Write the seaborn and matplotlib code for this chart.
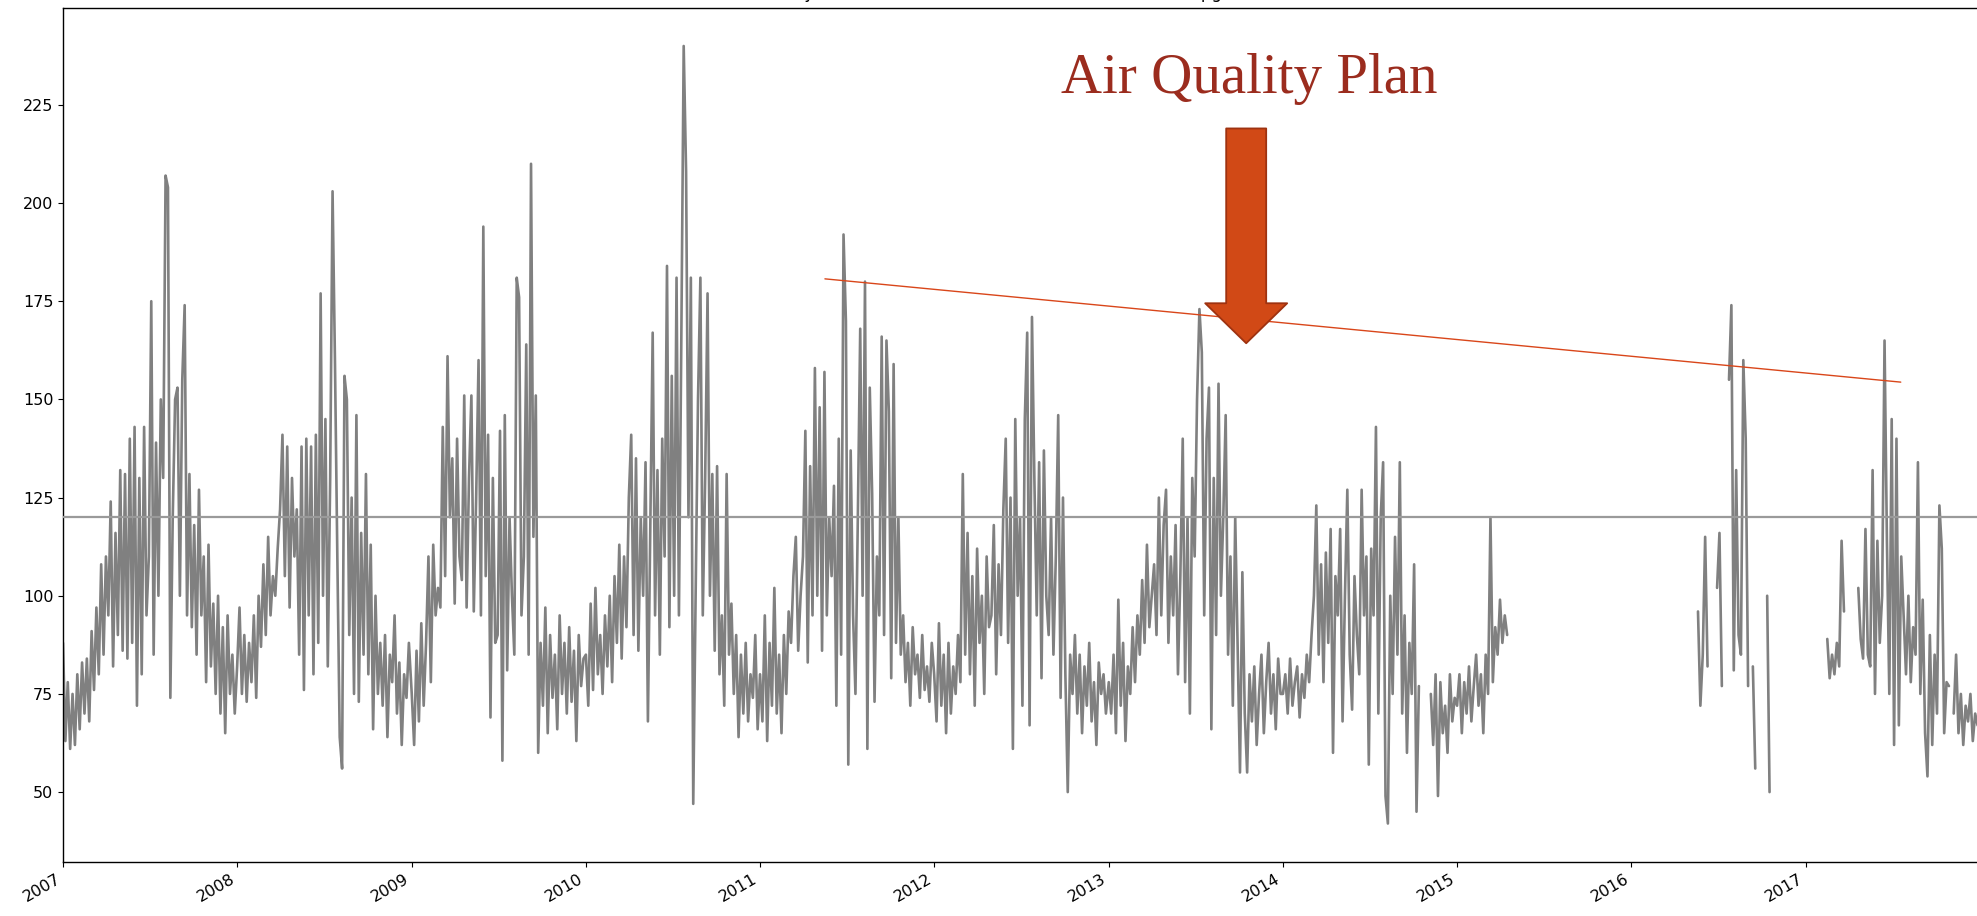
import numpy as np
import pandas as pd
import matplotlib
matplotlib.use("Agg")
import matplotlib.pyplot as plt
import matplotlib.dates as mdates
import seaborn as sns

nan = np.nan

# ---- data (5-day samples, NaN = missing) ----
years = [2007, 2008, 2009, 2010, 2011, 2012, 2013, 2014, 2015, 2016, 2017]

o3_2007 = [88, 63, 78, 61, 75, 62, 80, 66, 83, 70, 84, 68,
           91, 76, 97, 80, 108, 85, 110, 95, 124, 82, 116, 90,
           132, 86, 131, 84, 140, 88, 143, 72, 130, 80, 143, 95,
           110, 175, 85, 139, 100, 150, 130, 207, 204, 74, 120, 150,
           153, 100, 155, 174, 95, 131, 92, 118, 85, 127, 95, 110,
           78, 113, 82, 98, 75, 100, 70, 92, 65, 95, 75, 85, 70]
o3_2008 = [82, 97, 75, 90, 73, 88, 78, 95, 74, 100, 87, 108,
           90, 115, 95, 105, 100, 112, 122, 141, 105, 138, 97, 130,
           110, 122, 85, 138, 76, 140, 95, 138, 80, 141, 88, 177,
           100, 145, 82, 130, 203, 160, 110, 64, 56, 156, 150, 90,
           125, 75, 146, 73, 116, 85, 131, 80, 113, 66, 100, 75,
           88, 72, 90, 64, 85, 78, 95, 70, 83, 62, 80, 74, 88]
o3_2009 = [75, 62, 86, 68, 93, 72, 88, 110, 78, 113, 95, 102,
           97, 143, 105, 161, 120, 135, 98, 140, 110, 104, 151, 97,
           130, 151, 96, 125, 160, 95, 194, 105, 141, 69, 130, 88,
           90, 142, 58, 146, 81, 120, 100, 85, 181, 176, 95, 110,
           164, 85, 210, 115, 151, 60, 88, 72, 97, 65, 90, 74,
           85, 66, 95, 75, 88, 70, 92, 73, 86, 63, 90, 77, 84]
o3_2010 = [85, 72, 98, 76, 102, 80, 90, 75, 95, 82, 100, 78,
           105, 88, 113, 84, 110, 92, 125, 141, 90, 135, 86, 120,
           100, 134, 68, 118, 167, 95, 132, 85, 140, 110, 184, 92,
           156, 100, 181, 95, 165, 240, 208, 120, 181, 47, 100, 150,
           181, 95, 130, 177, 100, 131, 86, 133, 80, 95, 72, 131,
           85, 98, 75, 90, 64, 85, 70, 88, 68, 80, 74, 90, 66]
o3_2011 = [80, 68, 95, 63, 88, 72, 102, 70, 85, 65, 90, 75,
           96, 88, 105, 115, 86, 100, 110, 142, 83, 133, 95, 158,
           100, 148, 86, 157, 95, 120, 105, 128, 72, 140, 85, 192,
           170, 57, 137, 95, 75, 120, 168, 100, 180, 61, 153, 126,
           73, 110, 95, 166, 90, 165, 147, 79, 159, 88, 120, 85,
           95, 78, 88, 72, 92, 80, 85, 74, 90, 76, 82, 73, 88]
o3_2012 = [80, 68, 93, 72, 85, 65, 88, 70, 82, 75, 90, 78,
           131, 85, 116, 80, 105, 72, 112, 88, 100, 75, 110, 92,
           95, 118, 80, 108, 90, 122, 140, 88, 125, 61, 145, 100,
           120, 72, 145, 167, 67, 171, 130, 95, 134, 79, 137, 100,
           90, 120, 85, 110, 146, 74, 125, 80, 50, 85, 75, 90,
           70, 85, 65, 82, 72, 88, 68, 78, 62, 83, 75, 80, 70]
o3_2013 = [78, 70, 85, 65, 99, 72, 88, 63, 82, 75, 92, 78,
           95, 85, 104, 88, 113, 92, 100, 108, 90, 125, 95, 118,
           127, 88, 110, 95, 118, 80, 105, 140, 78, 120, 70, 130,
           110, 150, 173, 162, 95, 140, 153, 66, 130, 90, 154, 100,
           120, 146, 85, 110, 72, 120, 88, 55, 106, 70, 55, 80,
           68, 82, 62, 75, 85, 65, 78, 88, 70, 80, 66, 84, 75]
o3_2014 = [75, 80, 70, 84, 72, 78, 82, 69, 80, 74, 85, 78,
           90, 100, 123, 85, 108, 78, 111, 88, 117, 60, 105, 95,
           117, 68, 100, 127, 85, 71, 105, 90, 80, 127, 95, 110,
           57, 112, 95, 143, 70, 120, 134, 49, 42, 100, 75, 115,
           85, 134, 70, 95, 60, 88, 75, 108, 45, 77, nan, nan,
           nan, nan, 75, 62, 80, 49, 78, 65, 72, 60, 80, 68, 74]
o3_2015 = [72, 80, 65, 78, 70, 82, 68, 77, 85, 72, 80, 65,
           85, 75, 120, 78, 92, 85, 99, 88, 95, 90] + [nan] * 51
o3_2016 = ([nan] * 28 + [96, 72, 85, 115, 82] + [nan] * 3 + [102, 116, 77]
           + [nan] * 2 + [155, 174, 81, 132, 90] + [85, 160, 140, 77]
           + [nan] + [82, 56] + [nan] * 4 + [100, 50] + [nan] * 14)
o3_2017 = ([nan] * 9 + [89, 79, 85, 80, 88, 82, 114, 96] + [nan] * 5
           + [102, 89, 84, 117, 85, 82, 132, 75, 114, 88]
           + [100, 165, 114, 75, 145, 62, 140, 67, 110, 95, 80, 100, 78, 92, 85, 134]
           + [75, 99, 65, 54, 90, 62, 85, 70, 123, 112, 65, 78]
           + [77, nan, 70, 85, 65, 75, 62, 72, 68, 75, 63, 70, 67])

series = [o3_2007, o3_2008, o3_2009, o3_2010, o3_2011, o3_2012,
          o3_2013, o3_2014, o3_2015, o3_2016, o3_2017]

threshold = 120
trend_dates = ["2011-05-17", "2017-07-19"]
trend_values = [180.7, 154.4]
arrow_date = "2013-10-16"
arrow_tail_value = 219.0
arrow_tip_value = 164.3
annot_date = "2013-10-22"
annot_value = 228.0
annot_text = "Air Quality Plan"
title_text = "Daily maximum 8-hour mean ozone concentration, \u00b5g/m3"

# ---- build frame ----
frames = []
for yr, vals in zip(years, series):
    d = pd.date_range(f"{yr}-01-01", periods=len(vals), freq="5D")
    frames.append(pd.DataFrame({"date": d, "o3": vals}))
df = pd.concat(frames, ignore_index=True)
df["seg"] = df["o3"].isna().cumsum()
df = df.dropna()

# ---- style ----
sns.set_style("ticks")
plt.rcParams["font.family"] = ["DejaVu Sans"]
plt.rcParams["axes.edgecolor"] = "black"
plt.rcParams["xtick.color"] = "black"
plt.rcParams["ytick.color"] = "black"
plt.rcParams["text.color"] = "black"

fig = plt.figure(figsize=(19.77, 9.16), dpi=100)
ax = fig.add_axes([63 / 1977, 1 - 862 / 916, 1916 / 1977, (862 - 7.5) / 916])

sns.lineplot(data=df, x="date", y="o3", units="seg", estimator=None,
             color="#808080", lw=1.9, ax=ax, legend=False)

ax.axhline(threshold, color="#9a9a9a", lw=1.6, zorder=3)
ax.plot(pd.to_datetime(trend_dates), trend_values, color="#d9461a", lw=1.0, zorder=4)

ax_x = mdates.date2num(pd.Timestamp(arrow_date))
ax.annotate("", xy=(ax_x, arrow_tip_value), xytext=(ax_x, arrow_tail_value),
            arrowprops=dict(arrowstyle="simple,head_length=1.0,head_width=2.05,tail_width=1.0",
                            mutation_scale=28.8, fc="#d14916", ec="#9e3210", lw=1.3,
                            shrinkA=0, shrinkB=0), zorder=5)

ax.text(mdates.date2num(pd.Timestamp(annot_date)), annot_value, annot_text,
        ha="center", va="baseline", fontsize=41, family=["Liberation Serif"],
        color="#9b2c1e", zorder=6)

fig.text(1255 / 1977, 1 + 1.5 / 916, title_text, ha="right", va="baseline", fontsize=12)

ax.set_xlim(mdates.date2num(pd.Timestamp("2007-01-01")), mdates.date2num(pd.Timestamp("2017-12-30")))
ax.set_ylim(32.2, 249.8)
ax.set_yticks([50, 75, 100, 125, 150, 175, 200, 225])
ax.xaxis.set_major_locator(mdates.YearLocator())
ax.xaxis.set_major_formatter(mdates.DateFormatter("%Y"))
ax.tick_params(axis="both", labelsize=11.5)
plt.setp(ax.get_xticklabels(), rotation=30, ha="right")
ax.set_xlabel("")
ax.set_ylabel("")
for s in ["top", "left", "bottom", "right"]:
    ax.spines[s].set_visible(True)
    ax.spines[s].set_linewidth(1.0)

fig.savefig("out.png", dpi=100)
